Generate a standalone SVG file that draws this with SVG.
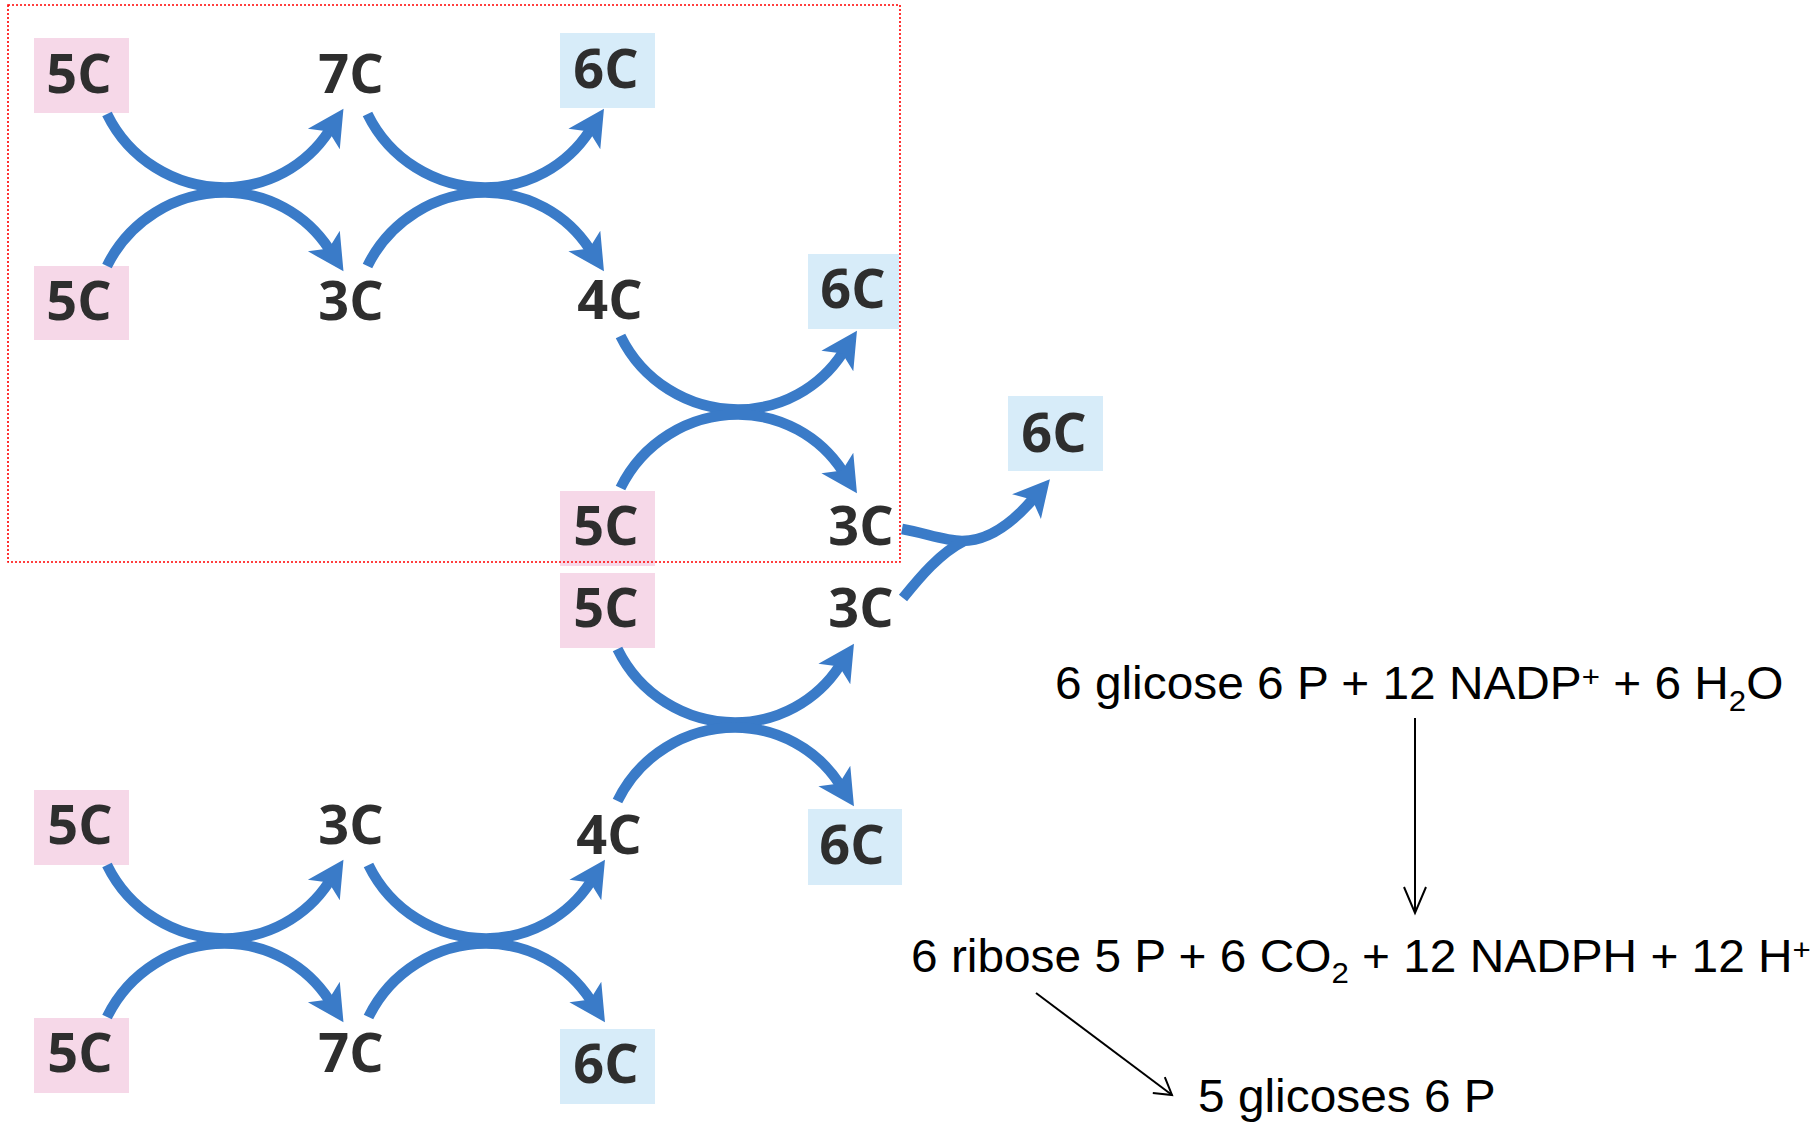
<svg xmlns="http://www.w3.org/2000/svg" width="1820" height="1123" viewBox="0 0 1820 1123">
<style>
.pink{fill:#F6D8E8}
.blue{fill:#D7ECF9}
.lbl{font-family:"Open Sans","DejaVu Sans",sans-serif;font-weight:700;font-size:54px;fill:#2E2E2E;text-anchor:middle}
.arc{fill:none;stroke:#3A7BC8;stroke-width:10.5;stroke-linecap:butt}
.eq{font-family:"Liberation Sans",Arial,sans-serif;font-size:46px;fill:#000}
.thin{fill:none;stroke:#000;stroke-width:2}
</style>
<defs>
<marker id="bh" markerUnits="userSpaceOnUse" viewBox="-14 -22 44 44" markerWidth="44" markerHeight="44" refX="0" refY="0" orient="auto" overflow="visible">
<path d="M26,0 L-10,-19 L-1,0 L-10,19 Z" fill="#3A7BC8"/>
</marker>
<marker id="vh" markerUnits="userSpaceOnUse" viewBox="-30 -15 32 30" markerWidth="32" markerHeight="30" refX="0" refY="0" orient="auto" overflow="visible">
<path d="M-26,-11 L0,0 L-26,11" fill="none" stroke="#000" stroke-width="2"/>
</marker>
<marker id="dh" markerUnits="userSpaceOnUse" viewBox="-30 -15 32 30" markerWidth="32" markerHeight="30" refX="0" refY="0" orient="auto" overflow="visible">
<path d="M-16.5,-10 L0,0 L-16.5,10" fill="none" stroke="#000" stroke-width="2"/>
</marker>
</defs>
<rect width="1820" height="1123" fill="#fff"/>

<g id="n1"><rect class="pink" x="34" y="38" width="95" height="75"/><text class="lbl" x="79" y="93">5C</text></g>
<g id="n2"><text class="lbl" x="351" y="93">7C</text></g>
<g id="n3"><rect class="blue" x="560" y="33" width="95" height="75"/><text class="lbl" x="606" y="88">6C</text></g>
<g id="n4"><rect class="pink" x="34" y="266" width="95" height="74"/><text class="lbl" x="79" y="320">5C</text></g>
<g id="n5"><text class="lbl" x="351" y="320">3C</text></g>
<g id="n6"><text class="lbl" x="610" y="319">4C</text></g>
<g id="n7"><rect class="blue" x="808" y="254" width="91" height="75"/><text class="lbl" x="853" y="308">6C</text></g>
<g id="n8"><rect class="pink" x="560" y="491" width="95" height="75"/><text class="lbl" x="606" y="545">5C</text></g>
<g id="n9"><text class="lbl" x="861" y="545">3C</text></g>
<g id="n10"><rect class="blue" x="1008" y="396" width="95" height="75"/><text class="lbl" x="1054" y="452">6C</text></g>
<g id="n11"><rect class="pink" x="560" y="573" width="95" height="75"/><text class="lbl" x="606" y="627">5C</text></g>
<g id="n12"><text class="lbl" x="861" y="627">3C</text></g>
<g id="n13"><rect class="blue" x="808" y="809" width="94" height="76"/><text class="lbl" x="852" y="864">6C</text></g>
<g id="n14"><text class="lbl" x="609" y="854">4C</text></g>
<g id="n15"><rect class="pink" x="34" y="790" width="95" height="75"/><text class="lbl" x="80" y="844">5C</text></g>
<g id="n16"><text class="lbl" x="351" y="844">3C</text></g>
<g id="n17"><rect class="pink" x="34" y="1018" width="95" height="75"/><text class="lbl" x="80" y="1072">5C</text></g>
<g id="n18"><text class="lbl" x="351" y="1072">7C</text></g>
<g id="n19"><rect class="blue" x="560" y="1029" width="95" height="75"/><text class="lbl" x="606" y="1083">6C</text></g>

<g id="eq1"><text class="eq" transform="translate(1055,699) scale(1.04,1)" x="0" y="0">6 glicose 6 P + 12 NADP<tspan font-size="30" dy="-12">+</tspan><tspan dy="12"> + 6 H</tspan><tspan font-size="30" dy="12">2</tspan><tspan dy="-12">O</tspan></text></g>
<g id="eq2"><text class="eq" transform="translate(911,972) scale(1.04,1)" x="0" y="0">6 ribose 5 P + 6 CO<tspan font-size="30" dy="11">2</tspan><tspan dy="-11"> + 12 NADPH + 12 H</tspan><tspan font-size="30" dy="-12">+</tspan></text></g>
<g id="eq3"><text class="eq" transform="translate(1198,1112) scale(1.04,1)" x="0" y="0">5 glicoses 6 P</text></g>

<g id="connectors">
<path class="arc" marker-end="url(#bh)" d="M107,114 A131,131 0 0 0 224.5,187.5 A125,125 0 0 0 329.3,130.6"/>
<path class="arc" marker-end="url(#bh)" d="M107,266 A131,131 0 0 1 224.5,192.5 A125,125 0 0 1 329.3,249.4"/>
<path class="arc" marker-end="url(#bh)" d="M367.5,114 A131,131 0 0 0 485,187.5 A125,125 0 0 0 589.8,130.6"/>
<path class="arc" marker-end="url(#bh)" d="M367.5,266 A131,131 0 0 1 485,192.5 A125,125 0 0 1 589.8,249.4"/>
<path class="arc" marker-end="url(#bh)" d="M620.5,336 A131,131 0 0 0 738,409.5 A125,125 0 0 0 842.8,352.6"/>
<path class="arc" marker-end="url(#bh)" d="M620.5,488 A131,131 0 0 1 738,414.5 A125,125 0 0 1 842.8,471.4"/>
<path class="arc" marker-end="url(#bh)" d="M617.5,649 A131,131 0 0 0 735,722.5 A125,125 0 0 0 839.8,665.6"/>
<path class="arc" marker-end="url(#bh)" d="M617.5,801 A131,131 0 0 1 735,727.5 A125,125 0 0 1 839.8,784.4"/>
<path class="arc" marker-end="url(#bh)" d="M107,865 A131,131 0 0 0 224.5,938.5 A125,125 0 0 0 329.3,881.6"/>
<path class="arc" marker-end="url(#bh)" d="M107,1017 A131,131 0 0 1 224.5,943.5 A125,125 0 0 1 329.3,1000.4"/>
<path class="arc" marker-end="url(#bh)" d="M368.5,865 A131,131 0 0 0 486,938.5 A125,125 0 0 0 590.8,881.6"/>
<path class="arc" marker-end="url(#bh)" d="M368.5,1017 A131,131 0 0 1 486,943.5 A125,125 0 0 1 590.8,1000.4"/>
<path class="arc" marker-end="url(#bh)" d="M902,529 C925,533 945,541 962,541 C990,541 1015,520 1033,499"/>
<path class="arc" d="M903,598 C920,577 940,553 964,541"/>
<path class="thin" marker-end="url(#vh)" d="M1415,718 L1415,913"/>
<path class="thin" marker-end="url(#dh)" d="M1036,993 L1172,1095"/>
</g>

<rect x="8" y="5" width="892" height="557" fill="none" stroke="#FF0000" stroke-width="1.6" stroke-dasharray="2 2"/>
</svg>
